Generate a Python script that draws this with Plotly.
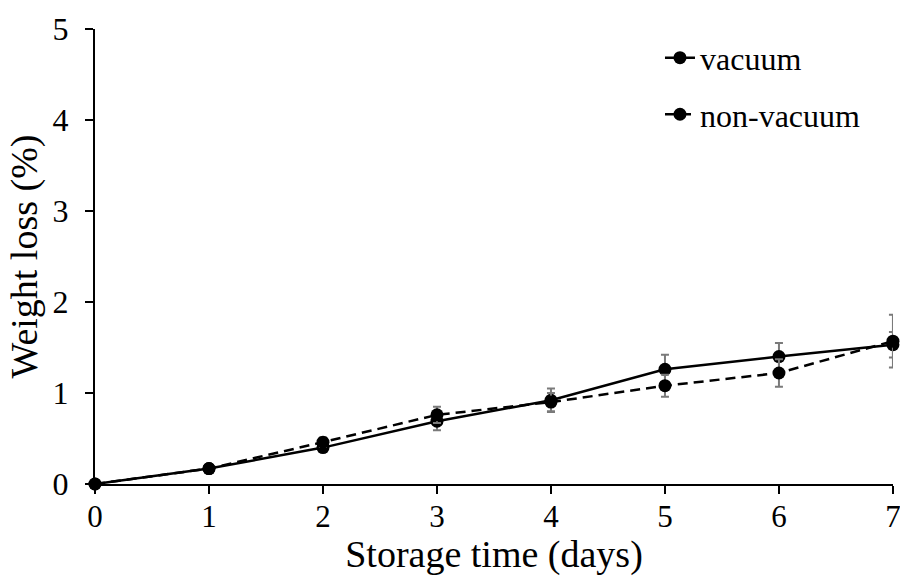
import plotly.graph_objects as go

days = [0, 1, 2, 3, 4, 5, 6, 7]
vacuum = [0, 0.17, 0.40, 0.69, 0.92, 1.26, 1.40, 1.53]
vacuum_err = [0, 0.02, 0.04, 0.10, 0.13, 0.16, 0.15, 0.14]
nonvacuum = [0, 0.17, 0.46, 0.76, 0.90, 1.08, 1.22, 1.57]
nonvacuum_err = [0, 0.02, 0.05, 0.09, 0.10, 0.12, 0.15, 0.29]
y_ticks = [0, 1, 2, 3, 4, 5]

FONT = "Liberation Serif"
ERR_COLOR = "#7a7a7a"

fig = go.Figure()
fig.add_trace(go.Scatter(
    x=days, y=vacuum, name="vacuum", mode="lines+markers",
    line=dict(color="black", width=2.5),
    marker=dict(color="black", size=13),
    error_y=dict(type="data", array=vacuum_err, visible=True,
                 color=ERR_COLOR, thickness=2, width=4),
    cliponaxis=False, legendgroup="a",
))
fig.add_trace(go.Scatter(
    x=days, y=nonvacuum, name="non-vacuum", mode="lines+markers",
    line=dict(color="black", width=2.5, dash="10px,6px"),
    marker=dict(color="black", size=13),
    error_y=dict(type="data", array=nonvacuum_err, visible=True,
                 color=ERR_COLOR, thickness=2, width=4),
    cliponaxis=False, legendgroup="b",
))

fig.update_layout(
    width=900, height=576,
    margin=dict(l=95, r=7, t=29, b=92),
    paper_bgcolor="white", plot_bgcolor="white",
    font=dict(family=FONT, size=32, color="black"),
    showlegend=True,
    legend=dict(x=0.708, y=0.997, xanchor="left", yanchor="top",
                bgcolor="rgba(0,0,0,0)", font=dict(size=32),
                tracegroupgap=12, traceorder="grouped"),
    xaxis=dict(range=[0, 7.0005], tickmode="array", tickvals=days,
               ticklabeloverflow="allow", automargin=False,
               ticklabelstandoff=-4, tickfont=dict(size=31),
               showline=True, linecolor="black", linewidth=2,
               ticks="outside", ticklen=8, tickwidth=2, tickcolor="black",
               showgrid=False, zeroline=False,
               title=dict(text="Storage time (days)", standoff=4)),
    yaxis=dict(range=[0, 5], tickmode="array", tickvals=y_ticks,
               automargin=False, ticklabelstandoff=10,
               showline=True, linecolor="black", linewidth=2,
               ticks="outside", ticklen=8, tickwidth=2, tickcolor="black",
               showgrid=False, zeroline=False,
               title=dict(text="Weight loss (%)", standoff=3)),
)

fig.write_html("out.html")
